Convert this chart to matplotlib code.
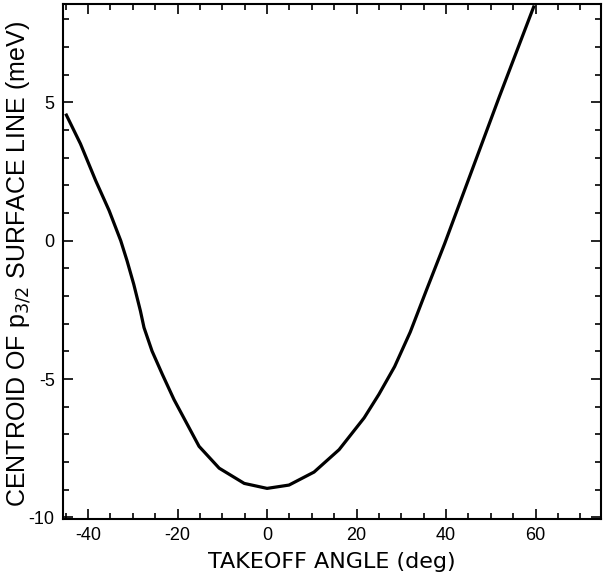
import matplotlib
matplotlib.use("Agg")
import matplotlib.pyplot as plt
from matplotlib.ticker import MultipleLocator

plt.rcParams['axes.unicode_minus'] = False

# centroid shift of the p3/2 surface line vs takeoff angle
angle = [-45.0, -41.7, -38.3, -35.3, -32.7, -31.3, -29.8, -28.3, -27.5, -25.7,
         -23.4, -20.8, -15.2, -10.7, -5.1, 0.0, 4.9, 10.5, 16.1, 21.7,
         25.0, 28.5, 32.0, 35.7, 39.7, 45.8, 51.9, 55.8, 59.7]
centroid = [4.59, 3.50, 2.17, 1.09, 0.0, -0.72, -1.57, -2.54, -3.14, -3.99,
            -4.83, -5.74, -7.43, -8.22, -8.77, -8.95, -8.83, -8.36, -7.55, -6.40,
            -5.55, -4.55, -3.3, -1.75, -0.1, 2.55, 5.2, 6.85, 8.5]

x_ticks = [-40, -20, 0, 20, 40, 60]
y_ticks = [-10, -5, 0, 5]

fig = plt.figure(figsize=(6.03, 5.81), dpi=100)
ax = fig.add_axes([0.1045, 0.107, 0.892, 0.886])

ax.plot(angle, centroid, color="black", linewidth=2.3, solid_capstyle="butt")

ax.set_xlim(-45.6, 74.6)
ax.set_ylim(-10.05, 8.55)
ax.set_xticks(x_ticks)
ax.set_yticks(y_ticks)
ax.xaxis.set_minor_locator(MultipleLocator(5))
ax.yaxis.set_minor_locator(MultipleLocator(1))
ax.tick_params(which="both", direction="in", top=True, right=True, width=1.2)
ax.tick_params(which="major", length=7)
ax.tick_params(which="minor", length=4)
ax.tick_params(labelsize=13, pad=6)
for lab in ax.get_xticklabels() + ax.get_yticklabels():
    lab.set_family("Liberation Sans")
for s in ax.spines.values():
    s.set_linewidth(1.5)

ax.set_xlabel("TAKEOFF ANGLE (deg)", fontsize=16, family="DejaVu Sans", labelpad=6)
ax.set_ylabel("CENTROID OF p$_{3/2}$ SURFACE LINE (meV)", fontsize=18,
              family=["Liberation Sans Narrow", "Liberation Sans"])
ax.yaxis.set_label_coords(-0.055, 0.496)

fig.savefig("out.png", dpi=100)
